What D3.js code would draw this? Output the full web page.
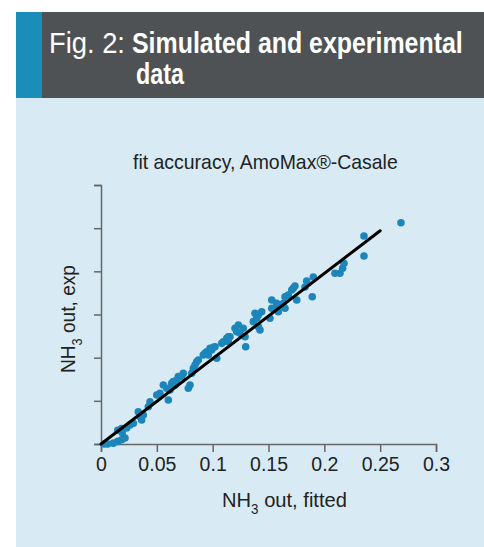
<!DOCTYPE html>
<html>
<head>
<meta charset="utf-8">
<script src="https://cdn.jsdelivr.net/npm/d3@7"></script>
<style>
  body { margin: 0; background: #fff; }
  svg { display: block; }
  text { font-family: "Liberation Sans", Arial, sans-serif; }
</style>
</head>
<body>
<div id="root"></div>
<script>
// fitted NH3 out (x) vs experimental NH3 out (y)
const fittedValues = [
	0.003, 0.006, 0.011, 0.015, 0.0185, 0.0215, 0.015, 0.019, 0.0185, 0.023,
	0.026, 0.029, 0.0334, 0.035, 0.0364, 0.0379, 0.0424, 0.0439, 0.0499, 0.0528,
	0.0603, 0.0558, 0.0588, 0.0633, 0.0678, 0.0692, 0.0647, 0.0618, 0.0663, 0.0737,
	0.0723, 0.0797, 0.0782, 0.0812, 0.0827, 0.0842, 0.0871, 0.0857, 0.0916, 0.0931,
	0.0947, 0.0961, 0.0991, 0.1021, 0.1036, 0.0976, 0.1006, 0.1081, 0.1095, 0.1126,
	0.114, 0.1155, 0.114, 0.1296, 0.12, 0.123, 0.1215, 0.1245, 0.1274, 0.129,
	0.1364, 0.1379, 0.1394, 0.1409, 0.1439, 0.1409, 0.1424, 0.1513, 0.1529, 0.1529,
	0.1558, 0.1573, 0.1588, 0.1603, 0.1633, 0.1648, 0.1677, 0.1648, 0.1708, 0.1722,
	0.1737, 0.1753, 0.1827, 0.1842, 0.1901, 0.1892, 0.2095, 0.214, 0.2164, 0.2176,
	0.2355, 0.2355, 0.2686
];
const expValues = [
	0.000, 0.000, 0.001, 0.003, 0.005, 0.007, 0.016, 0.013, 0.018, 0.0185,
	0.022, 0.024, 0.0374, 0.0316, 0.0278, 0.0336, 0.0432, 0.049, 0.0568, 0.0587,
	0.051, 0.0683, 0.0645, 0.0703, 0.0741, 0.078, 0.0722, 0.0626, 0.0683, 0.0819,
	0.078, 0.0683, 0.0645, 0.0819, 0.0877, 0.0915, 0.0973, 0.0953, 0.1031, 0.1051,
	0.1069, 0.1031, 0.1089, 0.1127, 0.0993, 0.1109, 0.112, 0.1166, 0.1185, 0.1224,
	0.1243, 0.1243, 0.1185, 0.1127, 0.134, 0.1378, 0.1301, 0.1282, 0.134, 0.1243,
	0.1417, 0.1514, 0.1456, 0.1494, 0.1532, 0.1359, 0.132, 0.1456, 0.1668, 0.1572,
	0.1572, 0.163, 0.1532, 0.161, 0.163, 0.1706, 0.1726, 0.1572, 0.1784, 0.1804,
	0.183, 0.1668, 0.1819, 0.1888, 0.1934, 0.1706, 0.1977, 0.1977, 0.2035, 0.2093,
	0.2409, 0.2178, 0.2563
];
const fitLine = [[0, 0], [0.25, 0.247]];
const xTicks = [0, 0.05, 0.1, 0.15, 0.2, 0.25, 0.3];
const yTicks = [0, 0.05, 0.1, 0.15, 0.2, 0.25, 0.3];

const width = 484, height = 547;
const plot = { left: 101, right: 436, top: 185, bottom: 444 };

const svg = d3.select("#root")
	.append("svg")
		.attr("width", width)
		.attr("height", height);

// panel + header
svg.append("rect")
	.attr("x", 16).attr("y", 98)
	.attr("width", width - 16).attr("height", height - 98)
	.style("fill", "#d8ebf4");

svg.append("rect")
	.attr("x", 16).attr("y", 12)
	.attr("width", width - 16).attr("height", 86)
	.style("fill", "#4e5255");

svg.append("rect")
	.attr("x", 16).attr("y", 12)
	.attr("width", 26).attr("height", 86)
	.style("fill", "#1b8db9");

// condensed look: draw text at (0,0) and scale it horizontally to the reference width
const condensedText = (px, py, len, rotate = 0) => {
	const g = svg.append("g");
	const t = g.append("text");
	return {
		text: t,
		fit: () => {
			const w = t.node().getComputedTextLength();
			g.attr("transform", `translate(${ px }, ${ py }) rotate(${ rotate }) scale(${ len / w }, 1)`);
		}
	};
};

const figLabel = condensedText(49, 53, 76);
figLabel.text.style("fill", "#fff").style("font-size", "29px").text("Fig. 2:");
figLabel.fit();

const heading1 = condensedText(132, 53, 331);
heading1.text.style("fill", "#fff").style("font-size", "29px").style("font-weight", "bold")
	.text("Simulated and experimental");
heading1.fit();

const heading2 = condensedText(136, 84, 48);
heading2.text.style("fill", "#fff").style("font-size", "29px").style("font-weight", "bold")
	.text("data");
heading2.fit();

const subtitle = condensedText(133, 169, 265);
subtitle.text.style("fill", "#222").style("font-size", "20px").text("fit accuracy, AmoMax®-Casale");
subtitle.fit();

const x = d3.scaleLinear().domain([0, 0.3]).range([plot.left, plot.right]);
const y = d3.scaleLinear().domain([0, 0.3]).range([plot.bottom, plot.top]);

const xAxis = svg.append("g")
	.attr("transform", `translate(0, ${ plot.bottom })`)
	.call(d3.axisBottom(x).tickValues(xTicks).tickFormat(d3.format("")).tickSizeOuter(0).tickSize(8).tickPadding(5));

const yAxis = svg.append("g")
	.attr("transform", `translate(${ plot.left }, 0)`)
	.call(d3.axisLeft(y).tickValues(yTicks).tickFormat("").tickSizeOuter(0).tickSize(7));

[xAxis, yAxis].forEach(axis => {
	axis.select(".domain").style("stroke", "#666").style("stroke-width", 1.5);
	axis.selectAll(".tick line").style("stroke", "#666").style("stroke-width", 1.5);
});
xAxis.selectAll(".tick text")
	.style("font-size", "19.5px")
	.style("fill", "#222")
	.style("font-family", "\"Liberation Sans\", Arial, sans-serif");

// points
const points = d3.zip(fittedValues, expValues);
svg.append("g")
	.selectAll("circle")
	.data(points)
	.enter()
	.append("circle")
		.attr("cx", d => x(d[0]))
		.attr("cy", d => y(d[1]))
		.attr("r", 3.8)
		.style("fill", "#1c86bb");

svg.append("path")
	.datum(fitLine)
	.attr("d", d3.line().x(d => x(d[0])).y(d => y(d[1])))
	.style("stroke", "#000")
	.style("stroke-width", 3)
	.style("stroke-linecap", "round")
	.style("fill", "none");

// axis labels
const xLabel = condensedText(222, 507, 125);
xLabel.text.style("fill", "#222").style("font-size", "21px");
xLabel.text.append("tspan").text("NH");
xLabel.text.append("tspan").text("3").attr("dy", 7).style("font-size", "14px");
xLabel.text.append("tspan").text(" out, fitted").attr("dy", -7);
xLabel.fit();

const yLabel = condensedText(75, 373, 108, -90);
yLabel.text.style("fill", "#222").style("font-size", "21px");
yLabel.text.append("tspan").text("NH");
yLabel.text.append("tspan").text("3").attr("dy", 7).style("font-size", "14px");
yLabel.text.append("tspan").text(" out, exp").attr("dy", -7);
yLabel.fit();
</script>
</body>
</html>
